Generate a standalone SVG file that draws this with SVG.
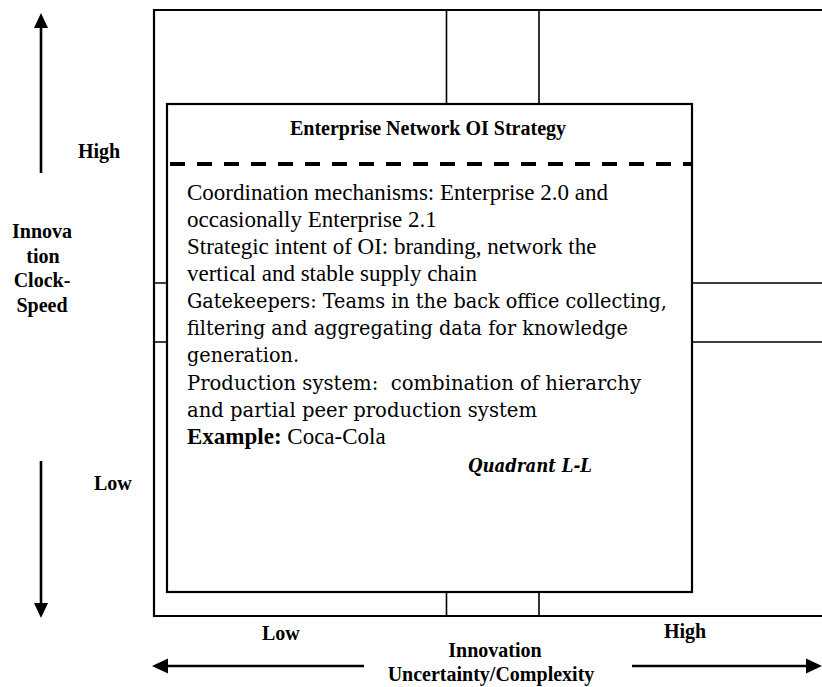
<svg xmlns="http://www.w3.org/2000/svg" width="822" height="687" viewBox="0 0 822 687">
  <style>
    .frame { fill: none; stroke: #000; stroke-width: 2.2; }
    .grid { fill: none; stroke: #000; stroke-width: 1.6; }
    .axis { fill: none; stroke: #000; stroke-width: 2.6; }
    .head { fill: #000; }
    .lbl { font-family: "Liberation Serif", "Times New Roman", serif; font-weight: bold; font-size: 20px; fill: #000; }
    .tnr { font-family: "Liberation Serif", "Times New Roman", serif; font-size: 23px; fill: #000; }
    .cam { font-family: "DejaVu Serif", "Liberation Serif", serif; font-size: 19.5px; fill: #000; white-space: pre; }
    .quad { font-family: "DejaVu Serif", "Liberation Serif", serif; font-size: 19px; font-weight: bold; font-style: italic; fill: #000; }
    .mid { text-anchor: middle; }
  </style>

  <rect width="822" height="687" fill="#fff"/>

  <!-- quadrant grid: outer frame open on the right, centre gutter lines -->
  <g id="grid">
    <path class="frame" d="M822,10 H154 V616 H822"/>
    <path class="grid" d="M446.5,10 V104 M539,10 V104 M446.5,592 V616 M539,592 V616"/>
    <path class="grid" d="M154,283 H167 M154,342 H167 M692,283 H822 M692,342 H822"/>
  </g>

  <!-- axis arrows -->
  <g id="connectors">
    <path class="axis" d="M41,173 V27"/>
    <polygon class="head" points="41,13 34,28 48,28"/>
    <path class="axis" d="M41,461 V604"/>
    <polygon class="head" points="41,618 34,603 48,603"/>
    <path class="axis" d="M364,666 H166"/>
    <polygon class="head" points="152,666 168,658.5 168,673.5"/>
    <path class="axis" d="M632,666 H808"/>
    <polygon class="head" points="822,666 806,658.5 806,673.5"/>
  </g>

  <!-- vertical axis labels -->
  <g id="y-axis-labels">
    <text class="lbl" x="78" y="158">High</text>
    <text class="lbl mid" x="42" y="238">Innova</text>
    <text class="lbl mid" x="43" y="263">tion</text>
    <text class="lbl mid" x="42" y="287">Clock-</text>
    <text class="lbl mid" x="42" y="312">Speed</text>
    <text class="lbl" x="94" y="490">Low</text>
  </g>

  <!-- horizontal axis labels -->
  <g id="x-axis-labels">
    <text class="lbl" x="262" y="640">Low</text>
    <text class="lbl" x="664" y="638">High</text>
    <text class="lbl mid" x="495" y="657">Innovation</text>
    <text class="lbl mid" x="491" y="681">Uncertainty/Complexity</text>
  </g>

  <!-- strategy box -->
  <g id="strategy-box">
    <rect class="frame" x="167" y="104" width="525" height="488"/>
    <text class="lbl mid" x="428" y="135">Enterprise Network OI Strategy</text>
    <line x1="170" y1="164" x2="692" y2="164" stroke="#000" stroke-width="4" stroke-dasharray="15 12"/>
    <text class="tnr" x="187" y="200">Coordination mechanisms: Enterprise 2.0 and</text>
    <text class="tnr" x="187" y="227">occasionally Enterprise 2.1</text>
    <text class="tnr" x="187" y="254">Strategic intent of OI: branding, network the</text>
    <text class="tnr" x="187" y="281">vertical and stable supply chain</text>
    <text class="cam" x="187" y="308" textLength="480" lengthAdjust="spacingAndGlyphs">Gatekeepers: Teams in the back office collecting,</text>
    <text class="cam" x="187" y="335" textLength="441" lengthAdjust="spacingAndGlyphs">filtering and aggregating data for knowledge</text>
    <text class="cam" x="187" y="362" textLength="112" lengthAdjust="spacingAndGlyphs">generation.</text>
    <text class="cam" x="187" y="390" textLength="454" lengthAdjust="spacingAndGlyphs">Production system:  combination of hierarchy</text>
    <text class="cam" x="187" y="417" textLength="350" lengthAdjust="spacingAndGlyphs">and partial peer production system</text>
    <text class="tnr" x="187" y="444"><tspan font-weight="bold">Example:</tspan> Coca-Cola</text>
    <text class="quad" x="468" y="472" textLength="124" lengthAdjust="spacingAndGlyphs">Quadrant L-L</text>
  </g>
</svg>
